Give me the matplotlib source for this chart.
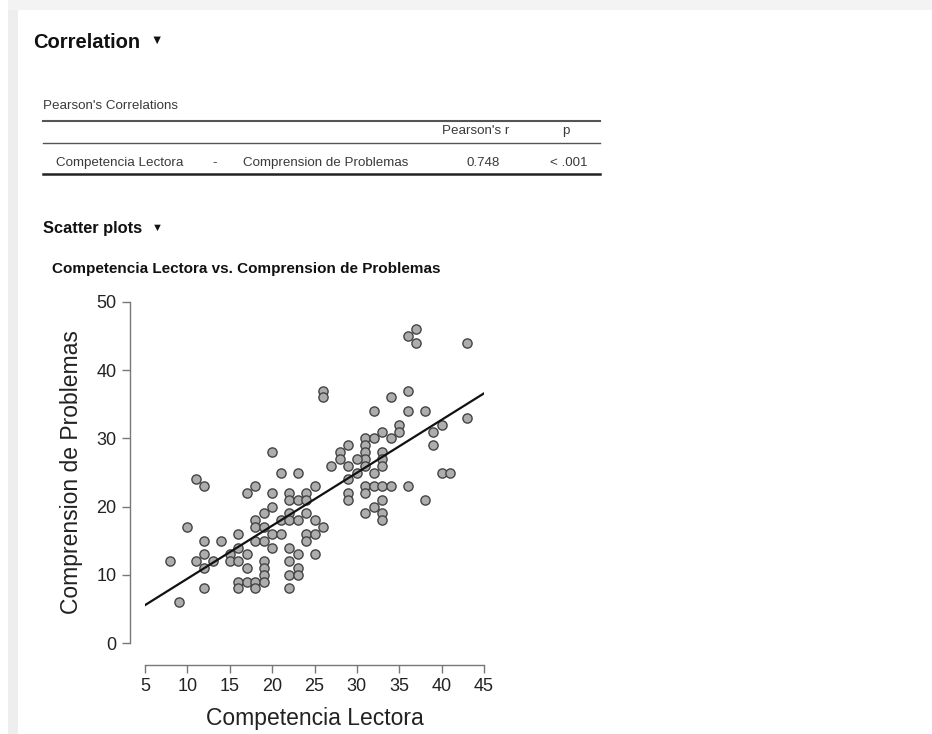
# Correlation output (JASP-like): Pearson table + scatter with regression line
import numpy as np
import matplotlib.pyplot as plt
from matplotlib.lines import Line2D
from matplotlib.patches import Rectangle

plt.rcParams['font.family'] = ['Liberation Sans', 'DejaVu Sans']

W, H = 932, 734

# data
lectora = [37, 36, 37, 43, 26, 26, 36, 34, 32, 36, 38, 43, 35, 35, 40, 39, 39, 40, 41, 36, 38,
           31, 32, 33, 34, 31, 31, 33, 31, 33, 31, 33, 32, 31, 32, 33, 34, 31, 33, 32, 31, 33, 33,
           29, 28, 28, 30, 27, 29, 30, 29, 29, 29,
           20, 21, 23, 11, 12, 17, 18, 20, 22, 24, 25, 22, 23, 24, 20, 19, 22, 24, 18, 21, 22, 23,
           25, 18, 19, 26, 10, 20, 21, 24, 25, 16, 18, 19, 24, 12, 14, 16, 20, 22, 12, 15, 17, 23,
           25, 8, 11, 13, 15, 16, 19, 22, 12, 17, 19, 23, 19, 22, 23, 16, 17, 18, 19, 16, 18, 22,
           12, 9]
problemas = [46, 45, 44, 44, 37, 36, 37, 36, 34, 34, 34, 33, 32, 31, 32, 31, 29, 25, 25, 23, 21,
             30, 30, 31, 30, 29, 28, 28, 27, 27, 26, 26, 25, 23, 23, 23, 23, 22, 21, 20, 19, 19, 18,
             29, 28, 27, 27, 26, 26, 25, 24, 22, 21,
             28, 25, 25, 24, 23, 22, 23, 22, 22, 22, 23, 21, 21, 21, 20, 19, 19, 19, 18, 18, 18, 18,
             18, 17, 17, 17, 17, 16, 16, 16, 16, 16, 15, 15, 15, 15, 15, 14, 14, 14, 13, 13, 13, 13,
             13, 12, 12, 12, 12, 12, 12, 12, 11, 11, 11, 11, 10, 10, 10, 9, 9, 9, 9, 8, 8, 8,
             8, 6]
x_ticks = [5, 10, 15, 20, 25, 30, 35, 40, 45]
y_ticks = [0, 10, 20, 30, 40, 50]
r_value = '0.748'
p_value = '< .001'


def fx(px):
    return px / W


def fy(py):
    return 1 - py / H


fig = plt.figure(figsize=(W / 100, H / 100), dpi=100)
fig.patch.set_facecolor('white')

# page frame
fig.add_artist(Rectangle((fx(8), 0), fx(10), 1, transform=fig.transFigure,
                         facecolor='#eeeeee', edgecolor='none'))
fig.add_artist(Rectangle((fx(8), fy(10)), 1, fy(0) - fy(10), transform=fig.transFigure,
                         facecolor='#f3f3f3', edgecolor='none'))

# headings
fig.text(fx(33), fy(42), 'Correlation', fontsize=14.5, fontweight='bold', va='center', color='#111111')
fig.text(fx(150), fy(41), '▼', fontsize=9, va='center', color='#111111')

# table
tfs = 9.6
tc = '#3a3a3a'
fig.text(fx(43), fy(106), "Pearson's Correlations", fontsize=tfs, va='center', color=tc)
fig.add_artist(Line2D([fx(43), fx(600)], [fy(121), fy(121)], color='#555555', lw=1.5))
fig.text(fx(476), fy(131), "Pearson's r", fontsize=tfs, ha='center', va='center', color=tc)
fig.text(fx(566), fy(131), 'p', fontsize=tfs, ha='center', va='center', color=tc)
fig.add_artist(Line2D([fx(43), fx(600)], [fy(143), fy(143)], color='#555555', lw=1.0))
fig.text(fx(56), fy(163), 'Competencia Lectora', fontsize=tfs, va='center', color=tc)
fig.text(fx(215), fy(163), '-', fontsize=tfs, ha='center', va='center', color=tc)
fig.text(fx(243), fy(163), 'Comprension de Problemas', fontsize=tfs, va='center', color=tc)
fig.text(fx(483), fy(163), r_value, fontsize=tfs, ha='center', va='center', color=tc)
fig.text(fx(569), fy(163), p_value, fontsize=tfs, ha='center', va='center', color=tc)
fig.add_artist(Line2D([fx(43), fx(600)], [fy(174), fy(174)], color='#222222', lw=1.8))

fig.text(fx(43), fy(229), 'Scatter plots', fontsize=11.8, fontweight='bold', va='center', color='#111111')
fig.text(fx(152), fy(228), '▼', fontsize=8, va='center', color='#111111')
fig.text(fx(52), fy(269), 'Competencia Lectora vs. Comprension de Problemas', fontsize=11,
         fontweight='bold', va='center', color='#111111')

# scatter plot
ax = fig.add_axes([fx(145), fy(643), fx(484) - fx(145), fy(302) - fy(643)])
ax.set_xlim(5, 45)
ax.set_ylim(0, 50)
ax.scatter(lectora, problemas, s=44, facecolor='#adadad', edgecolor='#444444', linewidth=1.0, zorder=3)

slope, intercept = np.polyfit(lectora, problemas, 1)
xl = np.array([5, 45])
ax.plot(xl, intercept + slope * xl, color='#111111', lw=1.6, zorder=4)

for side in ['top', 'right']:
    ax.spines[side].set_visible(False)
ax.spines['left'].set_position(('outward', 11))
ax.spines['bottom'].set_position(('outward', 16))
ax.spines['left'].set_bounds(0, 50)
ax.spines['bottom'].set_bounds(5, 45)
for side in ['left', 'bottom']:
    ax.spines[side].set_color('#777777')
    ax.spines[side].set_linewidth(1.0)
ax.set_xticks(x_ticks)
ax.set_yticks(y_ticks)
ax.tick_params(direction='out', length=6, width=1.0, color='#777777', labelsize=13, labelcolor='#222222')
ax.set_xlabel('Competencia Lectora', fontsize=16.5, color='#222222', labelpad=8)
ax.set_ylabel('Comprension de Problemas', fontsize=16.5, color='#222222', labelpad=10)
ax.patch.set_alpha(0)

fig.savefig('out.png', dpi=100)
